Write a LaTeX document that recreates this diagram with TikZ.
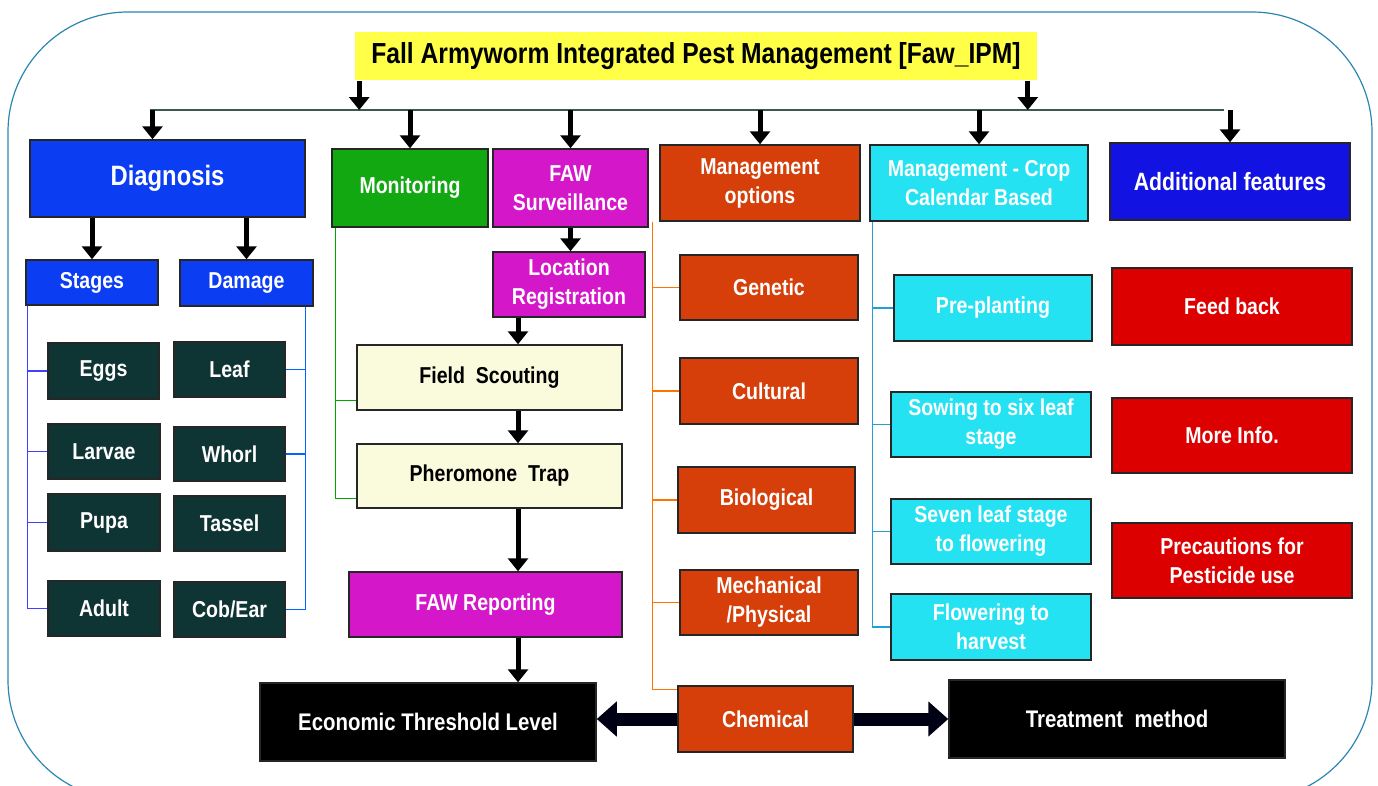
\documentclass[tikz,border=0pt]{standalone}
\usepackage{fontspec}
\setmainfont{Liberation Sans}[FakeStretch=0.85]
\usetikzlibrary{arrows.meta}

\definecolor{titleyellow}{HTML}{FFFF48}
\definecolor{diagblue}{HTML}{0B3DF2}
\definecolor{addblue}{HTML}{1212E2}
\definecolor{monigreen}{HTML}{12A812}
\definecolor{fawmagenta}{HTML}{D417C9}
\definecolor{mgmtorange}{HTML}{D63F0A}
\definecolor{cropcyan}{HTML}{24E2F2}
\definecolor{infored}{HTML}{DC0000}
\definecolor{stageteal}{HTML}{0F3434}
\definecolor{scoutcream}{HTML}{FAFADC}
\definecolor{framecol}{HTML}{2A86B0}
\definecolor{buscol}{HTML}{3A5A4A}

\tikzset{
  caja/.style={draw=black!85, line width=1.5pt, inner sep=0pt, align=center,
    text=white, font=\bfseries\fontsize{23}{29}\selectfont},
  flecha/.style={-{Triangle[width=20pt,length=13pt]}, line width=5pt, draw=black},
  dflecha/.style={-{Triangle[width=34pt,length=20pt]}, line width=13pt, draw=black!92!blue},
  rama/.style={line width=1.2pt}
}

\begin{document}
\begin{tikzpicture}[x=1pt, y=-1pt]
        \useasboundingbox (0,0) rectangle (1378,785);
        % Marco
        \draw[framecol, line width=1.2pt, rounded corners=120pt] (8,12) rectangle (1372,800);

        % Titulo
        \node[caja, draw=none, fill=titleyellow, text=black, font=\bfseries\fontsize{29}{34}\selectfont,
              minimum width=682pt, minimum height=48pt] (title) at (696,56) {Fall Armyworm Integrated Pest Management [Faw\_IPM]};
        \coordinate (busL) at (150,110);
        \coordinate (busR) at (1224,110);
        \draw[buscol, line width=2pt] (busL) -- (busR);
        \draw[flecha] ([xshift=5pt]title.south west) -- ([xshift=5pt]title.south west |- busL);
        \draw[flecha] ([xshift=-10pt]title.south east) -- ([xshift=-10pt]title.south east |- busL);

        % Primer nivel
        \node[caja, fill=diagblue, font=\bfseries\fontsize{28}{32}\selectfont,
              minimum width=275pt, minimum height=77pt] (diag) at (167.5,178.5) {Diagnosis};
        \node[caja, fill=monigreen, minimum width=156pt, minimum height=78pt] (mon) at (410,188) {Monitoring};
        \node[caja, fill=fawmagenta, minimum width=155pt, minimum height=78pt] (faw) at (570.5,188) {FAW\\Surveillance};
        \node[caja, fill=mgmtorange, minimum width=200pt, minimum height=76pt] (mgmt) at (760,183) {Management\\options};
        \node[caja, fill=cropcyan, minimum width=218pt, minimum height=76pt] (crop) at (979,183) {Management - Crop\\Calendar Based};
        \node[caja, fill=addblue, font=\bfseries\fontsize{25}{30}\selectfont,
              minimum width=240pt, minimum height=77pt] (addl) at (1230,181.5) {Additional features};

        \draw[flecha] ([xshift=-15pt]diag.north |- busL) -- ([xshift=-15pt]diag.north);
        \foreach \n in {mon,faw,mgmt,crop,addl}
            \draw[flecha] (\n.north |- busL) -- (\n.north);

        % Diagnosis
        \node[caja, fill=diagblue, minimum width=132pt, minimum height=45pt] (stages) at (92,282.5) {Stages};
        \node[caja, fill=diagblue, minimum width=133pt, minimum height=46pt] (damage) at (246.5,283) {Damage};
        \draw[flecha] (diag.south -| stages.north) -- (stages.north);
        \draw[flecha] (diag.south -| damage.north) -- (damage.north);

        \node[caja, fill=stageteal, minimum width=111pt, minimum height=56pt] (eggs) at (103.5,371) {Eggs};
        \node[caja, fill=stageteal, minimum width=112pt, minimum height=55pt] (larvae) at (104,451.5) {Larvae};
        \node[caja, fill=stageteal, minimum width=112pt, minimum height=57pt] (pupa) at (104,522.5) {Pupa};
        \node[caja, fill=stageteal, minimum width=112pt, minimum height=55pt] (adult) at (104,608.5) {Adult};
        \node[caja, fill=stageteal, minimum width=111pt, minimum height=55pt] (leaf) at (229.5,369.5) {Leaf};
        \node[caja, fill=stageteal, minimum width=111pt, minimum height=54pt] (whorl) at (229.5,454) {Whorl};
        \node[caja, fill=stageteal, minimum width=111pt, minimum height=55pt] (tassel) at (229.5,523.5) {Tassel};
        \node[caja, fill=stageteal, minimum width=111pt, minimum height=55pt] (cob) at (229.5,609.5) {Cob/Ear};

        \foreach \n in {eggs,larvae,pupa,adult}
            \draw[rama, blue!75] ([xshift=2pt]stages.south west) |- (\n.west);
        \foreach \n in {leaf,whorl,cob}
            \draw[rama, blue!60!cyan] ([xshift=-8pt]damage.south east) |- (\n.east);

        % Monitoring y Surveillance
        \node[caja, fill=fawmagenta, minimum width=152pt, minimum height=65pt] (locreg) at (569,284.5) {Location\\Registration};
        \node[caja, fill=scoutcream, text=black, minimum width=265pt, minimum height=65pt] (field) at (489.5,377.5) {Field~~Scouting};
        \node[caja, fill=scoutcream, text=black, minimum width=265pt, minimum height=64pt] (phero) at (489.5,476) {Pheromone~~Trap};
        \node[caja, fill=fawmagenta, minimum width=273pt, minimum height=65pt] (report) at (485.5,604.5) {FAW Reporting};
        \coordinate (spine) at (518,0);

        \draw[flecha] (faw.south) -- (locreg.north -| faw.south);
        \draw[flecha] (locreg.south -| spine) -- (field.north -| spine);
        \draw[flecha] (field.south -| spine) -- (phero.north -| spine);
        \draw[flecha] (phero.south -| spine) -- (report.north -| spine);

        \foreach \n in {field,phero}
            \draw[rama, green!65!black] ([xshift=4pt]mon.south west) |- ([yshift=10pt]\n.south west);

        % Management options
        \node[caja, fill=mgmtorange, minimum width=178pt, minimum height=65pt] (genetic) at (769,287.5) {Genetic};
        \node[caja, fill=mgmtorange, minimum width=178pt, minimum height=66pt] (cultural) at (769,391) {Cultural};
        \node[caja, fill=mgmtorange, minimum width=177pt, minimum height=66pt] (bio) at (766.5,500) {Biological};
        \node[caja, fill=mgmtorange, minimum width=178pt, minimum height=65pt] (mech) at (769,602.5) {Mechanical\\/Physical};
        \node[caja, fill=mgmtorange, minimum width=175pt, minimum height=66pt] (chem) at (765.5,719) {Chemical};

        \foreach \n in {genetic,cultural,bio,mech}
            \draw[rama, orange!90!red] ([xshift=-7pt]mgmt.south west) |- (\n.west);
        \draw[rama, orange!90!red] ([xshift=-7pt]mgmt.south west) |- ([yshift=-4pt]chem.north west);

        % Crop calendar
        \node[caja, fill=cropcyan, minimum width=198pt, minimum height=66pt] (preplant) at (993,308) {Pre-planting};
        \node[caja, fill=cropcyan, minimum width=200pt, minimum height=65pt] (sowing) at (991,424.5) {Sowing to six leaf\\stage};
        \node[caja, fill=cropcyan, minimum width=200pt, minimum height=65pt] (seven) at (991,531.5) {Seven leaf stage\\to flowering};
        \node[caja, fill=cropcyan, minimum width=200pt, minimum height=66pt] (flower) at (991,627) {Flowering to\\harvest};

        \foreach \n in {preplant,sowing,seven,flower}
            \draw[rama, cyan!70!teal] ([xshift=3pt]crop.south west) |- (\n.west);

        % Additional features
        \node[caja, fill=infored, minimum width=240pt, minimum height=77pt] (feed) at (1232,306.5) {Feed back};
        \node[caja, fill=infored, minimum width=240pt, minimum height=75pt] (more) at (1232,435.5) {More Info.};
        \node[caja, fill=infored, minimum width=240pt, minimum height=75pt] (prec) at (1232,560.5) {Precautions for\\Pesticide use};

        % Fila inferior
        \node[caja, fill=black, font=\bfseries\fontsize{24}{29}\selectfont,
              minimum width=336pt, minimum height=78pt] (etl) at (428,722) {Economic Threshold Level};
        \node[caja, fill=black, font=\bfseries\fontsize{24}{29}\selectfont,
              minimum width=336pt, minimum height=78pt] (treat) at (1117,719) {Treatment~~method};
        \draw[flecha] (report.south -| spine) -- (etl.north -| spine);
        \draw[dflecha] (chem.west) -- (chem.west -| etl.east);
        \draw[dflecha] (chem.east) -- (chem.east -| treat.west);
    \end{tikzpicture}
\end{document}
